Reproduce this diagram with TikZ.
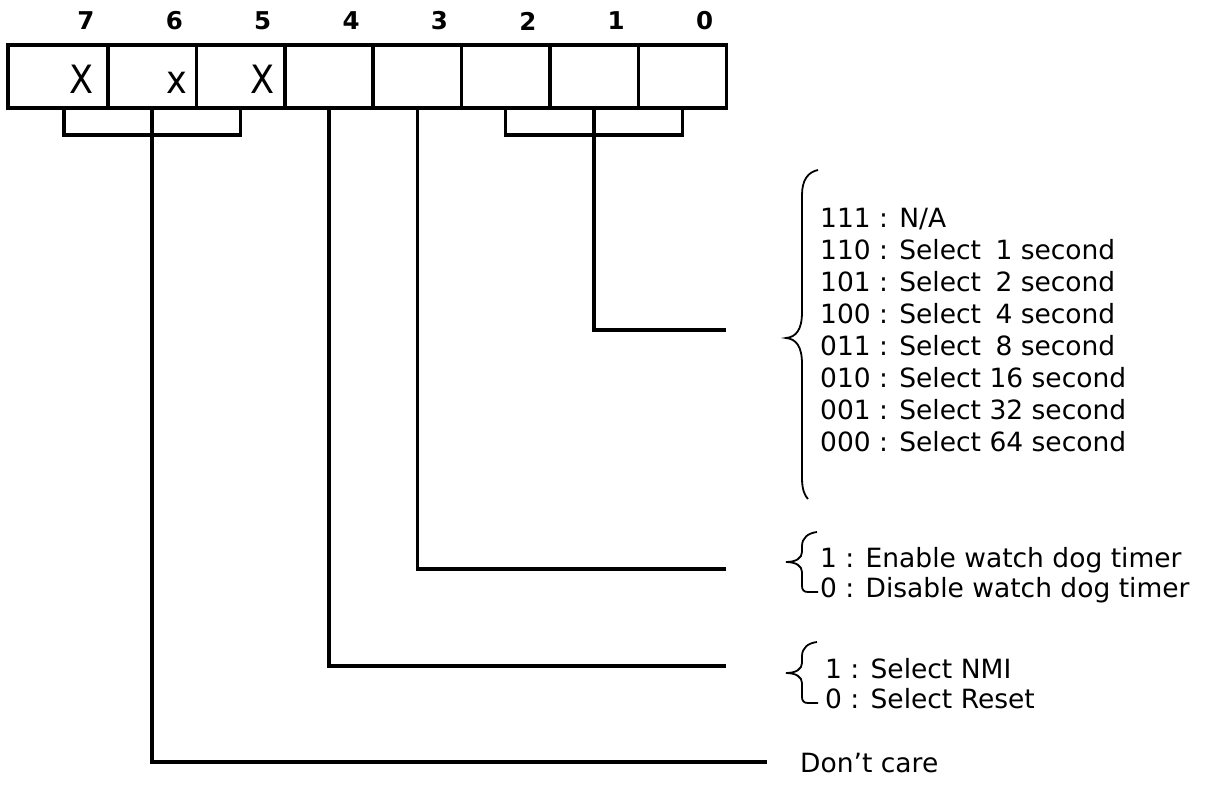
\documentclass[tikz,border=0pt]{standalone}
\usepackage{fontspec}
\setmainfont{DejaVu Sans}
\IfFontExistsTF{FiraSans-Light.otf}
  {\newfontfamily\cellfont{FiraSans-Light.otf}\newcommand{\cellsx}{1}}
  {\newfontfamily\cellfont{DejaVu Sans}\newcommand{\cellsx}{0.9}}
\usepackage{tikz}
\usetikzlibrary{positioning,calc}
\newcommand{\legendsize}{\fontsize{26.5}{32}\selectfont}
\newcommand{\pairsize}{\fontsize{26.5}{30}\selectfont}
\newcommand{\dpad}{\hspace{6pt}}

\begin{document}
\begin{tikzpicture}[x=1pt,y=-1pt,
  regcell/.style={draw,line width=3.5pt,minimum height=63pt,inner sep=0pt,outer sep=0pt},
  bitno/.style={inner sep=0pt,font=\fontsize{24.5}{26}\selectfont\bfseries},
  xmark/.style={anchor=base,inner sep=0pt,xscale=\cellsx,font=\cellfont\fontsize{39}{42}\selectfont},
  wire/.style={line width=3.5pt},
  curly/.style={line width=1.8pt},
  legend/.style={anchor=west,inner sep=0pt}]
\useasboundingbox (0,0) rectangle (1205,785);

% register cells, bit 7 is wider
\node[regcell,minimum width=100pt] (c7) at (58,76.5) {};
\foreach \b [count=\k] in {6,...,0}
  \node[regcell,minimum width=88.375pt] (c\b) at ({108+(\k-0.5)*88.375},76.5) {};
\foreach \b in {7,...,0}
  \node[bitno] (n\b) at ([xshift=-22pt,yshift=24pt]c\b.north east) {\b};

\node[xmark] (x7) at (82,93) {X};
\node[xmark] (x6) at (177,93) {x};
\node[xmark] (x5) at (263,93) {X};

% free ends of the wires
\coordinate (e1) at (726,330);
\coordinate (e3) at (726,569);
\coordinate (e4) at (726,666);
\coordinate (e6) at (767,762);

\draw[wire] ([xshift=6pt]c7.south) -- ++(0,27) -| (c5.south);
\draw[wire] (c6.south) |- (e6);
\draw[wire] (c4.south) |- (e4);
\draw[wire] (c3.south) |- (e3);
\draw[wire] (c2.south) -- ++(0,27) -| (c0.south);
\draw[wire] (c1.south) |- (e1);

% braces
\draw[curly] (818,170) .. controls (808,172) and (802,180) .. (802,195)
  -- (802,312) .. controls (802,330) and (796,337) .. (786,338)
  .. controls (796,339) and (802,346) .. (802,364)
  -- (802,478) .. controls (802,490) and (805,496) .. (808,499);
\draw[curly] (817,532) .. controls (808,533) and (802,538) .. (802,546)
  -- (802,552) .. controls (802,558) and (796,562) .. (786,562)
  .. controls (796,562) and (802,566) .. (802,572)
  -- (802,586) .. controls (802,590) and (804,592) .. (808,592) -- (818,592);
\draw[curly] (817,642) .. controls (808,643) and (802,648) .. (802,656)
  -- (802,663) .. controls (802,669) and (796,673) .. (786,673)
  .. controls (796,673) and (802,677) .. (802,683)
  -- (802,697) .. controls (802,701) and (804,703) .. (808,703) -- (818,703);

\node[legend,font=\legendsize] (tsel) at (820,333) {%
\begin{tabular}{@{}l@{}}
111 : N/A\\
110 : Select\dpad{} 1 second\\
101 : Select\dpad{} 2 second\\
100 : Select\dpad{} 4 second\\
011 : Select\dpad{} 8 second\\
010 : Select 16 second\\
001 : Select 32 second\\
000 : Select 64 second
\end{tabular}};
\node[legend,font=\pairsize] (twdt) at (820,576) {%
\begin{tabular}{@{}l@{}}
1 : Enable watch dog timer\\
0 : Disable watch dog timer
\end{tabular}};
\node[legend,font=\pairsize] (tnmi) at (825,687) {%
\begin{tabular}{@{}l@{}}
1 : Select NMI\\
0 : Select Reset
\end{tabular}};
\node[legend,font=\legendsize] (tdc) at (800,763) {Don’t care};
\end{tikzpicture}
\end{document}
